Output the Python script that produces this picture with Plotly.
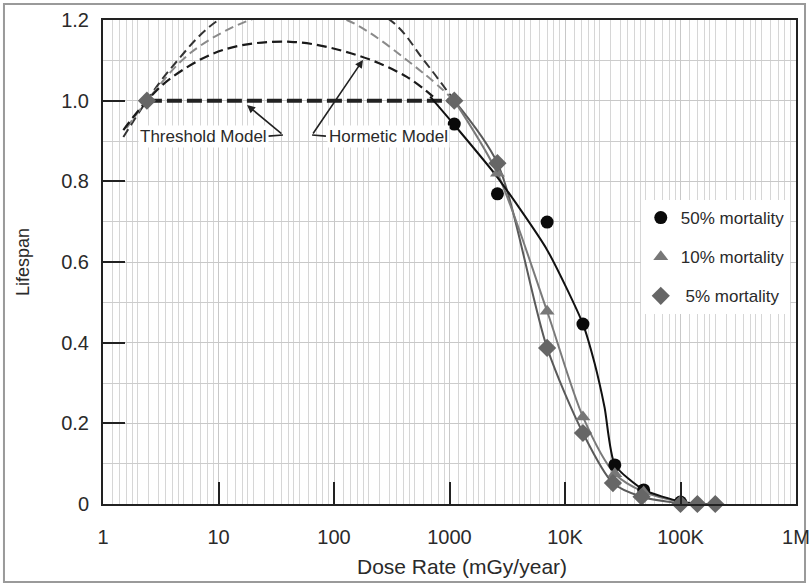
import plotly.graph_objects as go

# ---------------- data ----------------
tick_vals = [1, 10, 100, 1000, 1e4, 1e5, 1e6]
tick_text = ["1", "10", "100", "1000", "10K", "100K", "1M"]
y_tick_vals = [0, 0.2, 0.4, 0.6, 0.8, 1.0, 1.2]
y_tick_text = ["0", "0.2", "0.4", "0.6", "0.8", "1.0", "1.2"]

# measured points
m50_x = [1100, 2600, 7000, 14300, 27000, 48000, 100000]
m50_y = [0.942, 0.769, 0.699, 0.446, 0.097, 0.035, 0.005]
m10_x = [2600, 7000, 14300, 27000, 48000, 100000]
m10_y = [0.82, 0.478, 0.216, 0.075, 0.03, 0.005]
m5_x = [2.4, 1100, 2600, 7000, 14300, 26000, 46000, 100000, 140000, 200000]
m5_y = [1.0, 1.0, 0.845, 0.387, 0.176, 0.052, 0.018, 0.0, 0.0, 0.0]

# fitted curves
fit50_x = [680, 1100, 2600, 7000, 14300, 18000, 22000, 27000, 48000, 100000, 140000]
fit50_y = [1.01, 0.94, 0.81, 0.63, 0.446, 0.35, 0.24, 0.097, 0.035, 0.006, 0.0]
fit10_x = [1100, 2600, 7000, 14300, 27000, 48000, 100000, 140000]
fit10_y = [1.0, 0.82, 0.478, 0.216, 0.075, 0.03, 0.005, 0.0]
fit5_x = [1100, 2600, 7000, 14300, 26000, 46000, 100000, 140000, 200000]
fit5_y = [1.0, 0.845, 0.387, 0.176, 0.052, 0.018, 0.002, 0.0, 0.0]

# hormetic model curves (dashed)
horm_in_x = [1.5, 2.4, 4, 11, 42, 158, 427, 720]
horm_in_y = [0.927, 1.0, 1.059, 1.126, 1.146, 1.113, 1.059, 1.01]
horm_mid_x = [1.6, 2.4, 5.7, 18.7, 49, 129, 590, 1100]
horm_mid_y = [0.932, 1.0, 1.118, 1.2, 1.223, 1.2, 1.069, 1.0]
horm_out_x = [1.5, 2.4, 4, 10, 55, 305, 600, 1100]
horm_out_y = [0.91, 1.0, 1.085, 1.2, 1.285, 1.2, 1.10, 1.0]

# threshold model
thr_x = [2.4, 1100]
thr_y = [1.0, 1.0]

legend_names = ["50% mortality", "10% mortality", "\u00a05% mortality"]

# minor grid multipliers per decade
grid_mult = [1.2, 1.4, 1.6, 1.8, 2, 2.5, 3, 3.5, 4, 4.5, 5, 6, 7, 8, 9]
minor_vals = [m * 10 ** d for d in range(6) for m in grid_mult]

FONT = "Liberation Sans, Arial, sans-serif"
TXT = "#2a2a2a"

fig = go.Figure()

# dashed hormetic curves
fig.add_trace(go.Scatter(x=horm_out_x, y=horm_out_y, mode="lines", showlegend=False,
                         line=dict(color="#333333", width=2, dash="9px,5px", shape="spline", smoothing=1)))
fig.add_trace(go.Scatter(x=horm_mid_x, y=horm_mid_y, mode="lines", showlegend=False,
                         line=dict(color="#8a8a8a", width=2, dash="9px,5px", shape="spline", smoothing=1)))
fig.add_trace(go.Scatter(x=horm_in_x, y=horm_in_y, mode="lines", showlegend=False,
                         line=dict(color="#1a1a1a", width=2.2, dash="10px,5px", shape="spline", smoothing=1)))
# threshold line
fig.add_trace(go.Scatter(x=thr_x, y=thr_y, mode="lines", showlegend=False,
                         line=dict(color="#222222", width=4, dash="15px,5px")))

# fitted curves
fig.add_trace(go.Scatter(x=fit5_x, y=fit5_y, mode="lines", showlegend=False,
                         line=dict(color="#5a5a5a", width=2, shape="spline", smoothing=0.8)))
fig.add_trace(go.Scatter(x=fit10_x, y=fit10_y, mode="lines", showlegend=False,
                         line=dict(color="#7a7a7a", width=2, shape="spline", smoothing=0.8)))
fig.add_trace(go.Scatter(x=fit50_x, y=fit50_y, mode="lines", showlegend=False,
                         line=dict(color="#111111", width=2, shape="spline", smoothing=0.6)))

# markers
fig.add_trace(go.Scatter(x=m50_x, y=m50_y, mode="markers", name=legend_names[0], legendgroup="a",
                         cliponaxis=False, marker=dict(symbol="circle", size=13, color="#0a0a0a")))
fig.add_trace(go.Scatter(x=m10_x, y=m10_y, mode="markers", name=legend_names[1], legendgroup="b",
                         cliponaxis=False, marker=dict(symbol="triangle-up", size=13, color="#777777")))
fig.add_trace(go.Scatter(x=m5_x, y=m5_y, mode="markers", name=legend_names[2], legendgroup="c",
                         cliponaxis=False, marker=dict(symbol="diamond", size=14, color="#666666")))

# annotations
ann_font = dict(family=FONT, size=17, color=TXT)
annotations = [
    dict(x=0.874, y=0.91, xref="x", yref="y", text="Threshold Model", showarrow=False,
         bgcolor="white", font=ann_font),
    dict(x=2.468, y=0.91, xref="x", yref="y", text="Hormetic Model", showarrow=False,
         bgcolor="white", font=ann_font),
    dict(x=1.247, y=0.989, xref="x", yref="y", ax=1.558, ay=0.915, axref="x", ayref="y",
         text="", showarrow=True, arrowhead=2, arrowsize=1, arrowwidth=1.6, arrowcolor="#222"),
    dict(x=2.251, y=1.101, xref="x", yref="y", ax=1.81, ay=0.915, axref="x", ayref="y",
         text="", showarrow=True, arrowhead=2, arrowsize=1, arrowwidth=1.6, arrowcolor="#222"),
    # x-axis title (slightly right of centre, as in the reference)
    dict(x=0.518, y=-0.130, xref="paper", yref="paper", text="Dose Rate (mGy/year)",
         showarrow=False, xanchor="center", yanchor="middle",
         font=dict(family=FONT, size=21, color=TXT)),
]

shapes = [
    dict(type="line", xref="x", yref="y", x0=10 ** 1.43, x1=10 ** 1.558, y0=0.912, y1=0.915,
         line=dict(color="#222", width=1.6)),
    dict(type="line", xref="x", yref="y", x0=10 ** 1.81, x1=10 ** 1.93, y0=0.915, y1=0.912,
         line=dict(color="#222", width=1.6)),
    dict(type="rect", xref="paper", yref="paper", x0=-0.1429, x1=1.0130, y0=-0.161, y1=1.033,
         line=dict(color="#9a9a9a", width=2), fillcolor="rgba(0,0,0,0)", layer="below"),
]

fig.update_layout(
    width=809, height=586,
    margin=dict(l=103, r=13, t=20, b=82, autoexpand=False),
    paper_bgcolor="white", plot_bgcolor="white",
    font=dict(family=FONT, color=TXT),
    annotations=annotations, shapes=shapes,
    legend=dict(x=0.776, y=0.628, xanchor="left", yanchor="top", bgcolor="white",
                font=dict(family=FONT, size=17, color=TXT), tracegroupgap=14,
                traceorder="grouped", itemwidth=30),
)

fig.update_xaxes(
    type="log", range=[0, 6], tickmode="array", tickvals=tick_vals, ticktext=tick_text,
    ticks="inside", ticklen=22, tickwidth=2, tickcolor="#222", automargin=False,
    tickfont=dict(family=FONT, size=20, color=TXT), ticklabelstandoff=14,
    ticklabeloverflow="allow",
    showline=True, linecolor="#222", linewidth=2, mirror=True,
    showgrid=True, gridcolor="#c8c8c8", gridwidth=1,
    minor=dict(tickmode="array", tickvals=minor_vals, showgrid=True, gridcolor="#d6d6d6",
               gridwidth=1, ticks=""),
    zeroline=False,
)
fig.update_yaxes(
    range=[0, 1.2], tickmode="array", tickvals=y_tick_vals, ticktext=y_tick_text,
    ticks="inside", ticklen=22, tickwidth=2, tickcolor="#222", automargin=False,
    tickfont=dict(family=FONT, size=20, color=TXT), ticklabelstandoff=8,
    showline=True, linecolor="#222", linewidth=2, mirror=True,
    showgrid=True, gridcolor="#c8c8c8", gridwidth=1,
    minor=dict(dtick=0.1, showgrid=True, gridcolor="#cccccc", ticks=""),
    title=dict(text="Lifespan", font=dict(family=FONT, size=18, color=TXT), standoff=27),
    zeroline=False,
)

fig.write_html("out.html", post_script="document.body.style.margin='0px';",
               config={"displayModeBar": False})
